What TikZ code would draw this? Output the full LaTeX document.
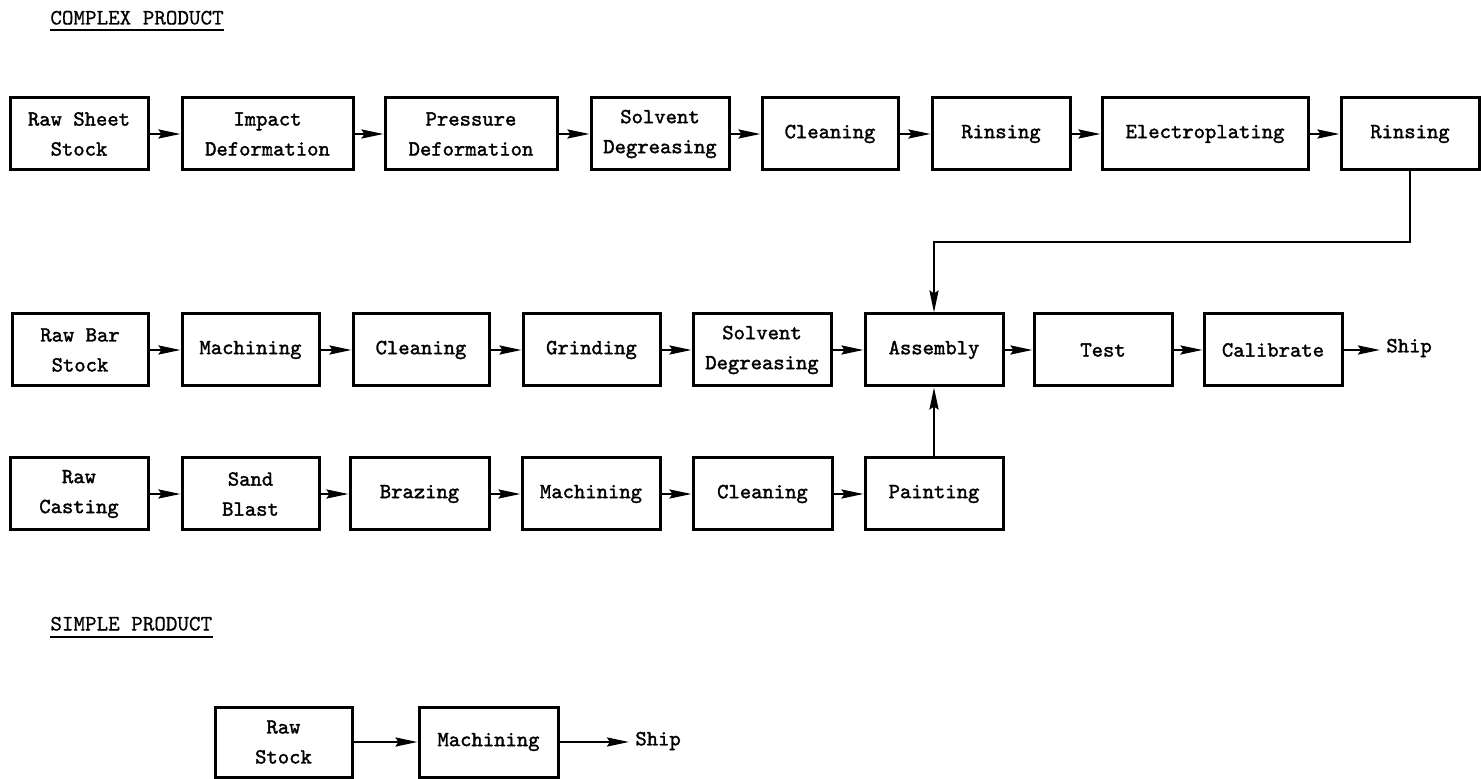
\documentclass[tikz,border=0pt]{standalone}
\usepackage{fontspec}
\newfontfamily\boxfont{lmmono10-regular.otf}[FakeBold=1.6]
\newfontfamily\headfont{lmmono10-regular.otf}[FakeBold=0.6]
\usetikzlibrary{arrows.meta}
\begin{document}
\begin{tikzpicture}[x=0.5pt,y=-0.5pt,
  box/.style={draw, line width=1.5pt, minimum height=36pt, inner sep=1pt,
    align=center, font=\boxfont\fontsize{10.8}{15}\selectfont},
  bw/.style={minimum width=#1*0.5pt},
  arr/.style={line width=1.25pt, -{Stealth[length=11pt,width=4.5pt,inset=1.5pt]}},
  heading/.style={inner sep=0pt, anchor=base west,
    font=\headfont\fontsize{11}{12}\selectfont},
  endlbl/.style={inner sep=3pt, anchor=west,
    font=\boxfont\fontsize{10.8}{15}\selectfont},
  uline/.style={line width=1pt}]
\useasboundingbox (0,0) rectangle (1481,779);

% headings
\node[heading] (hc) at (50,24.5) {COMPLEX PRODUCT};
\draw[uline] ([yshift=-2.75pt]hc.base west) -- ([yshift=-2.75pt]hc.base east);
\node[heading] (hs) at (50,630.5) {SIMPLE PRODUCT};
\draw[uline] ([yshift=-3pt]hs.base west) -- ([yshift=-3pt]hs.base east);

% sheet stock line
\node[box,bw=138] (rs)    at (79,134)    {Raw Sheet\\Stock};
\node[box,bw=171] (imp)   at (267.5,134) {Impact\\Deformation};
\node[box,bw=172] (pres)  at (471,134)   {Pressure\\Deformation};
\node[box,bw=138] (sdegA) at (660,134)   {Solvent\\Degreasing};
\node[box,bw=136] (clnA)  at (830,134)   {Cleaning};
\node[box,bw=138] (rinA)  at (1001,134)  {Rinsing};
\node[box,bw=206] (elec)  at (1205,134)  {Electroplating};
\node[box,bw=138] (rinB)  at (1410,134)  {Rinsing};

% bar stock line
\node[box,bw=136] (rb)    at (80,350)    {Raw Bar\\Stock};
\node[box,bw=137] (machA) at (250.5,350) {Machining};
\node[box,bw=136] (clnB)  at (421,350)   {Cleaning};
\node[box,bw=137] (grind) at (591.5,350) {Grinding};
\node[box,bw=138] (sdegB) at (762,350)   {Solvent\\Degreasing};
\node[box,bw=138] (asm)   at (934,350)   {Assembly};
\node[box,bw=138] (test)  at (1103,350)  {Test};
\node[box,bw=138] (cal)   at (1273,350)  {Calibrate};
\node[endlbl] (shipA) at (1380,348) {Ship};

% casting line
\node[box,bw=138] (rc)    at (79,494)    {Raw\\Casting};
\node[box,bw=137] (sand)  at (250.5,494) {Sand\\Blast};
\node[box,bw=139] (braz)  at (419.5,494) {Brazing};
\node[box,bw=138] (machB) at (591,494)   {Machining};
\node[box,bw=139] (clnC)  at (762.5,494) {Cleaning};
\node[box,bw=138] (paint) at (934,494)   {Painting};

% simple product
\node[box,bw=137,minimum height=35pt] (raws)  at (283.5,742) {Raw\\Stock};
\node[box,bw=139,minimum height=35pt] (machC) at (488.5,742) {Machining};
\node[endlbl] (shipB) at (629,741) {Ship};

% connectors
\draw[arr] (rs) -- (imp);
\draw[arr] (imp) -- (pres);
\draw[arr] (pres) -- (sdegA);
\draw[arr] (sdegA) -- (clnA);
\draw[arr] (clnA) -- (rinA);
\draw[arr] (rinA) -- (elec);
\draw[arr] (elec) -- (rinB);
\coordinate (join) at (934,242);
\draw[arr] (rinB.south) |- (join) -- (asm.north);

\draw[arr] (rb) -- (machA);
\draw[arr] (machA) -- (clnB);
\draw[arr] (clnB) -- (grind);
\draw[arr] (grind) -- (sdegB);
\draw[arr] (sdegB) -- (asm);
\draw[arr] (asm) -- (test);
\draw[arr] (test) -- (cal);
\draw[arr] (cal.east) -- (cal.east -| shipA.west);

\draw[arr] (rc) -- (sand);
\draw[arr] (sand) -- (braz);
\draw[arr] (braz) -- (machB);
\draw[arr] (machB) -- (clnC);
\draw[arr] (clnC) -- (paint);
\draw[arr] (paint) -- (asm);

\draw[arr] (raws) -- (machC);
\draw[arr] (machC.east) -- (machC.east -| shipB.west);
\end{tikzpicture}
\end{document}
